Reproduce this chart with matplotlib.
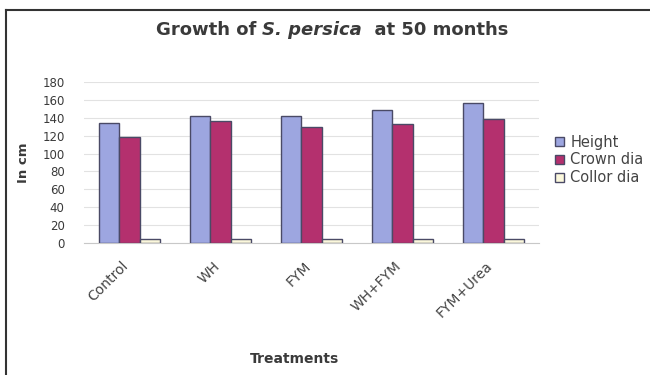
import matplotlib
matplotlib.use("Agg")
import matplotlib.pyplot as plt
import numpy as np
from matplotlib.lines import Line2D
from matplotlib.transforms import ScaledTranslation

plt.rcParams['font.family'] = ['DejaVu Sans']

treatments = ["Control", "WH", "FYM", "WH+FYM", "FYM+Urea"]
height = [134, 142, 142, 149, 156]
crown_dia = [119, 136, 130, 133, 139]
collar_dia = [5, 5, 5, 5, 5]
series_names = ["Height", "Crown dia", "Collor dia"]
yticks = [0, 20, 40, 60, 80, 100, 120, 140, 160, 180]

colors = ["#9DA6E0", "#B4306E", "#FBF8DC"]
text_color = "#3A3A3A"

W, H = 650, 375
fig = plt.figure(figsize=(W / 100, H / 100), dpi=100)
ax = fig.add_axes([84 / W, 1 - 243 / H, 455 / W, 161 / H])

x = np.arange(len(treatments))
bw = 0.225
for i, (vals, name) in enumerate(zip([height, crown_dia, collar_dia], series_names)):
    ax.bar(x + (i - 1) * bw, vals, width=bw, color=colors[i],
           edgecolor="#4A4A66", linewidth=1.0, label=name, zorder=3)

ax.set_xlim(-0.5, len(treatments) - 0.5)
ax.set_ylim(0, 180)
ax.set_yticks(yticks)
ax.set_yticklabels([str(v) for v in yticks], fontsize=8.5, color=text_color)
ax.yaxis.grid(True, color="#E2E2E2", linewidth=0.8, zorder=0)
ax.tick_params(axis="y", length=0, pad=14)
ax.tick_params(axis="x", length=0, pad=10)
for s in ["top", "right", "left"]:
    ax.spines[s].set_visible(False)
ax.spines["bottom"].set_color("#C8C8C8")

ax.set_xticks(x)
ax.set_xticklabels(treatments, rotation=45, ha="right", rotation_mode="anchor",
                   fontsize=10, color="#444444")
shift = ScaledTranslation(-8 / 100, -2 / 100, fig.dpi_scale_trans)
for lab in ax.get_xticklabels():
    lab.set_transform(lab.get_transform() + shift)

ax.set_ylabel("In cm", fontsize=9.5, fontweight="bold", color=text_color)
ax.yaxis.set_label_coords(-(84 - 30) / 455, 0.5)
ax.set_xlabel("Treatments", fontsize=10, fontweight="bold", color=text_color)
ax.xaxis.set_label_coords((295 - 84) / 455, -(352 - 243) / 161)

# title built from plain and italic pieces laid side by side
pieces = [("Growth of ", "normal"), ("S. persica", "italic"), ("  at 50 months", "normal")]
renderer = fig.canvas.get_renderer()
texts = []
for s, style in pieces:
    t = fig.text(0, 1 - 30 / H, s, ha="left", va="center", fontsize=13,
                 fontweight="bold", fontstyle=style, color=text_color)
    texts.append(t)
widths = [t.get_window_extent(renderer).width for t in texts]
xpos = 332 - sum(widths) / 2
for t, w in zip(texts, widths):
    t.set_x(xpos / W)
    xpos += w

leg = ax.legend(loc="center left", bbox_to_anchor=(555 / W, 1 - 160 / H),
                bbox_transform=fig.transFigure, frameon=False, fontsize=10.5,
                handlelength=0.6, handleheight=0.6, handletextpad=0.45,
                labelspacing=0.2, borderaxespad=0, borderpad=0)
for t in leg.get_texts():
    t.set_color("#444444")

# outer frame of the chart area
fig.add_artist(Line2D([6 / W, 1.0], [1 - 10 / H, 1 - 10 / H],
                      transform=fig.transFigure, color="#333333", linewidth=1.5))
fig.add_artist(Line2D([6 / W, 6 / W], [0, 1 - 10 / H],
                      transform=fig.transFigure, color="#333333", linewidth=1.5))

fig.savefig("out.png", dpi=100)
